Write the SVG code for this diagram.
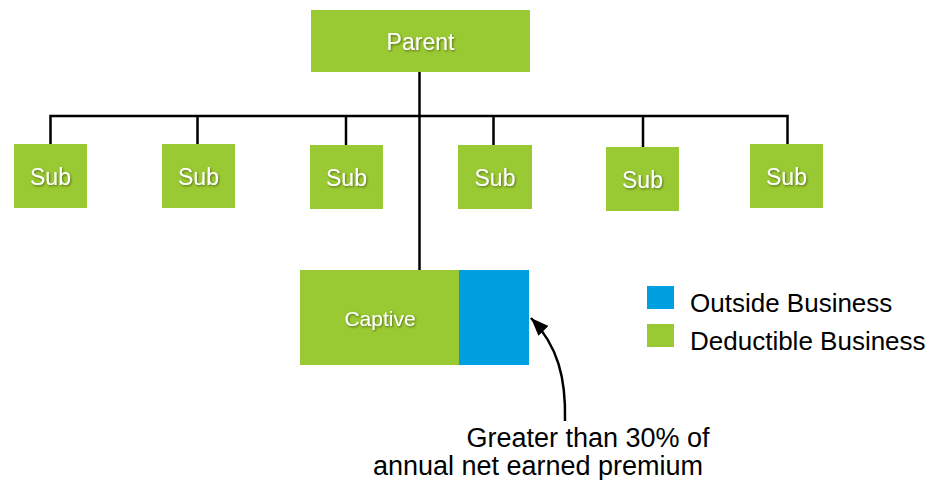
<svg xmlns="http://www.w3.org/2000/svg" width="933" height="480" viewBox="0 0 933 480">
<defs>
<filter id="sh" x="-20%" y="-20%" width="140%" height="140%">
<feDropShadow dx="1" dy="1.2" stdDeviation="0.8" flood-color="#3a4a10" flood-opacity="0.7"/>
</filter>
<marker id="ah" markerUnits="userSpaceOnUse" markerWidth="20" markerHeight="16" refX="18" refY="7" orient="auto">
<path d="M0,0 L18,7 L0,14 Z" fill="#000"/>
</marker>
</defs>
<style>
.g{fill:#9ACA33}
.b{fill:#009FDF}
.wt{fill:#fff;font-family:"Liberation Sans",Arial,sans-serif;text-anchor:middle;filter:url(#sh)}
.bt{fill:#000;font-family:"Liberation Sans",Arial,sans-serif;font-size:26px}
.nt{fill:#000;font-family:"Liberation Sans",Arial,sans-serif;font-size:27px;text-anchor:middle}
.ln{stroke:#000;stroke-width:2.5;fill:none}
</style>
<g id="connectors">
<path class="ln" d="M419.5,72 V270"/>
<path class="ln" d="M50.5,144 V116 H787.5 V144"/>
<path class="ln" d="M197.5,116 V144"/>
<path class="ln" d="M346,116 V145"/>
<path class="ln" d="M493.5,116 V145"/>
<path class="ln" d="M643,116 V147"/>
<path class="ln" d="M565,421 C566,378 558,346 531,318" marker-end="url(#ah)"/>
</g>
<g id="parent">
<rect class="g" x="311" y="10" width="219" height="62"/>
<text class="wt" x="420.5" y="50" font-size="23">Parent</text>
</g>
<g id="sub1">
<rect class="g" x="14" y="144" width="73" height="64"/>
<text class="wt" x="50.5" y="185" font-size="23">Sub</text>
</g>
<g id="sub2">
<rect class="g" x="162" y="144" width="73" height="64"/>
<text class="wt" x="198.5" y="185" font-size="23">Sub</text>
</g>
<g id="sub3">
<rect class="g" x="310" y="145" width="73" height="64"/>
<text class="wt" x="346.5" y="186" font-size="23">Sub</text>
</g>
<g id="sub4">
<rect class="g" x="458" y="145" width="74" height="64"/>
<text class="wt" x="495" y="186" font-size="23">Sub</text>
</g>
<g id="sub5">
<rect class="g" x="606" y="147" width="73" height="64"/>
<text class="wt" x="642.5" y="188" font-size="23">Sub</text>
</g>
<g id="sub6">
<rect class="g" x="750" y="144" width="73" height="64"/>
<text class="wt" x="786.5" y="185" font-size="23">Sub</text>
</g>
<g id="captive">
<rect class="g" x="300" y="270" width="159" height="95"/>
<rect class="b" x="459" y="270" width="70" height="95"/>
<text class="wt" x="380" y="326" font-size="21">Captive</text>
</g>
<g id="legend">
<rect class="b" x="647" y="286" width="27" height="23"/>
<text class="bt" x="690" y="312">Outside Business</text>
<rect class="g" x="647" y="324" width="27" height="23"/>
<text class="bt" x="690" y="350">Deductible Business</text>
</g>
<g id="note">
<text class="nt" x="588" y="447">Greater than 30% of</text>
<text class="nt" x="538" y="475">annual net earned premium</text>
</g>
</svg>
